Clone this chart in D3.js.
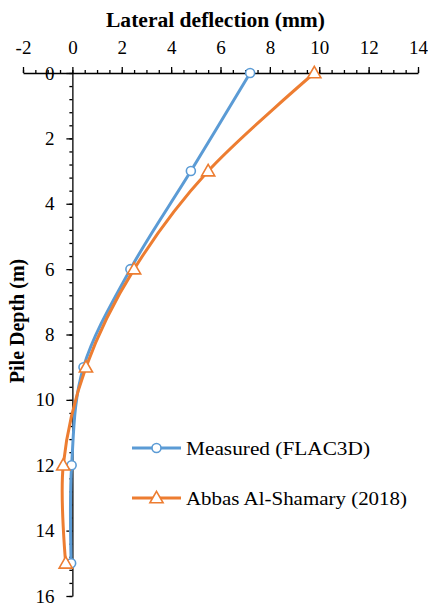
<!DOCTYPE html>
<html>
<head>
<meta charset="utf-8">
<script src="https://cdn.jsdelivr.net/npm/d3@7/dist/d3.min.js"></script>
<style>
  body { margin: 0; background: #fff; }
</style>
</head>
<body>
<div class="vis"></div>
<script>
    // depth (m) of each reading
    const depths = [0, 3, 6, 9, 12, 15];
    // lateral deflection (mm)
    const measured = [7.2, 4.8, 2.35, 0.45, -0.03, -0.05];
    const abbas = [9.8, 5.5, 2.5, 0.55, -0.37, -0.27];
    const seriesNames = ["Measured (FLAC3D)", "Abbas Al-Shamary (2018)"];
    const xTicks = [-2, 0, 2, 4, 6, 8, 10, 12, 14];
    const yTicks = [0, 2, 4, 6, 8, 10, 12, 14, 16];

    const dimensions = {
        width: 428,
        height: 606,
        margin: { left: 23, right: 10, top: 73, bottom: 10 }
    };

    const colors = ["#5B9BD5", "#ED7D31"];
    const serif = "'Liberation Serif', 'Times New Roman', Times, 'DejaVu Serif', serif";

    const svg = d3.select(".vis").append("svg")
        .attr("width", dimensions.width)
        .attr("height", dimensions.height)
        .style("font-family", serif);

    const x = d3.scaleLinear()
        .domain([-2, 14])
        .range([dimensions.margin.left, dimensions.width - dimensions.margin.right]);

    const y = d3.scaleLinear()
        .domain([0, 16])
        .range([dimensions.margin.top, dimensions.height - dimensions.margin.bottom]);

    // x axis on top, minor ticks every 0.5
    svg.append("g")
        .attr("transform", `translate(0,${y(0)})`)
        .call(d3.axisTop(x).tickValues(d3.range(-2, 14.01, 0.5)).tickSize(3).tickSizeOuter(0).tickFormat(""))
        .call(g => g.select(".domain").remove());
    svg.append("g")
        .attr("class", "xaxis")
        .attr("transform", `translate(0,${y(0)})`)
        .call(d3.axisTop(x).tickValues(xTicks).tickSize(6).tickSizeOuter(0).tickPadding(13).tickFormat(d => String(d)));

    // y axis at x = 0, minor ticks every 0.4
    svg.append("g")
        .attr("transform", `translate(${x(0)},0)`)
        .call(d3.axisLeft(y).tickValues(d3.range(0, 16.01, 0.4)).tickSize(3).tickSizeOuter(0).tickFormat(""))
        .call(g => g.select(".domain").remove());
    svg.append("g")
        .attr("class", "yaxis")
        .attr("transform", `translate(${x(0)},0)`)
        .call(d3.axisLeft(y).tickValues(yTicks).tickSize(6).tickSizeOuter(0).tickPadding(12).tickFormat(d => String(d)));

    svg.selectAll("g").attr("font-family", null).attr("font-size", null);
    svg.selectAll(".tick line, .domain").attr("stroke", "#000").attr("stroke-width", 1.3);
    svg.selectAll(".xaxis text, .yaxis text")
        .attr("fill", "#000")
        .style("font-family", serif)
        .style("font-size", "19px");

    svg.append("text")
        .attr("x", 106)
        .attr("y", 27)
        .attr("textLength", 219)
        .attr("lengthAdjust", "spacingAndGlyphs")
        .style("font-family", serif)
        .style("font-size", "20px")
        .style("font-weight", "bold")
        .text("Lateral deflection (mm)");

    svg.append("text")
        .attr("transform", `translate(24,321) rotate(-90)`)
        .attr("text-anchor", "middle")
        .style("font-family", serif)
        .style("font-size", "20px")
        .style("font-weight", "bold")
        .text("Pile Depth (m)");

    const line = d3.line()
        .x(d => x(d[0]))
        .y(d => y(d[1]))
        .curve(d3.curveCardinal.tension(0));

    const series = [measured, abbas].map(vals => vals.map((v, i) => [v, depths[i]]));

    const triangle = d3.symbol().type(d3.symbolTriangle).size(75);

    function marker(g, k, px, py) {
        if (k === 0) {
            g.append("circle")
                .attr("cx", px).attr("cy", py).attr("r", 4.5)
                .attr("fill", "#fff").attr("stroke", colors[k]).attr("stroke-width", 1.6);
        } else {
            g.append("path")
                .attr("d", triangle)
                .attr("transform", `translate(${px},${py + 1})`)
                .attr("fill", "#fff").attr("stroke", colors[k]).attr("stroke-width", 1.6);
        }
    }

    series.forEach((data, k) => {
        const g = svg.append("g");
        g.append("path")
            .attr("d", line(data))
            .attr("fill", "none")
            .attr("stroke", colors[k])
            .attr("stroke-width", 3);
        data.forEach(d => marker(g, k, x(d[0]), y(d[1])));
    });

    // legend
    const legendWidths = [184, 221];
    const legend = svg.append("g");
    seriesNames.forEach((name, k) => {
        const ly = 448 + k * 50;
        legend.append("line")
            .attr("x1", 132).attr("x2", 181)
            .attr("y1", ly).attr("y2", ly)
            .attr("stroke", colors[k]).attr("stroke-width", 3);
        marker(legend, k, 156.5, ly);
        legend.append("text")
            .attr("x", 186)
            .attr("y", ly)
            .attr("dy", "0.35em")
            .attr("textLength", legendWidths[k])
            .attr("lengthAdjust", "spacingAndGlyphs")
            .style("font-family", serif)
            .style("font-size", "19px")
            .text(name);
    });
</script>
</body>
</html>
